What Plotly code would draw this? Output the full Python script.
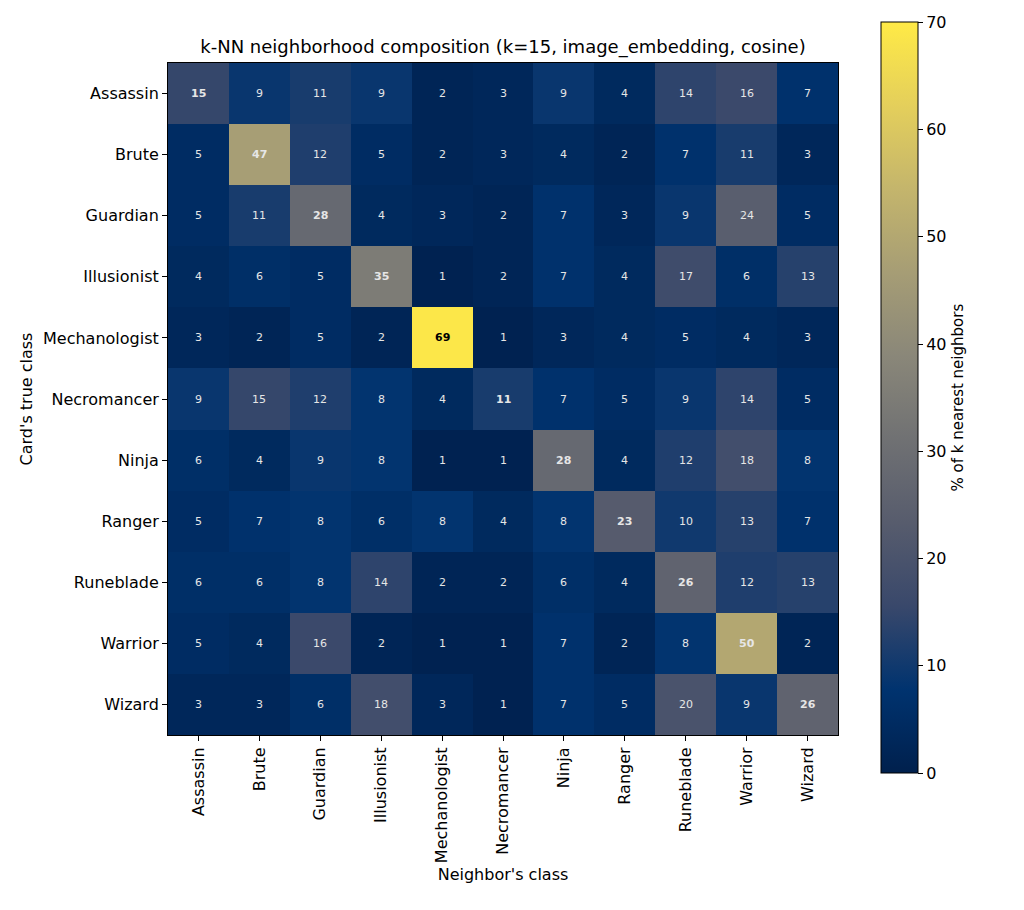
import plotly.graph_objects as go

classes = ["Assassin", "Brute", "Guardian", "Illusionist", "Mechanologist",
           "Necromancer", "Ninja", "Ranger", "Runeblade", "Warrior", "Wizard"]

# rows = card's true class, columns = neighbor's class (% of k nearest neighbors)
pct = [
    [15, 9, 11, 9, 2, 3, 9, 4, 14, 16, 7],
    [5, 47, 12, 5, 2, 3, 4, 2, 7, 11, 3],
    [5, 11, 28, 4, 3, 2, 7, 3, 9, 24, 5],
    [4, 6, 5, 35, 1, 2, 7, 4, 17, 6, 13],
    [3, 2, 5, 2, 69, 1, 3, 4, 5, 4, 3],
    [9, 15, 12, 8, 4, 11, 7, 5, 9, 14, 5],
    [6, 4, 9, 8, 1, 1, 28, 4, 12, 18, 8],
    [5, 7, 8, 6, 8, 4, 8, 23, 10, 13, 7],
    [6, 6, 8, 14, 2, 2, 6, 4, 26, 12, 13],
    [5, 4, 16, 2, 1, 1, 7, 2, 8, 50, 2],
    [3, 3, 6, 18, 3, 1, 7, 5, 20, 9, 26],
]

# cividis, 10 samples
cividis_hex = ["#00204d", "#00336f", "#39486b", "#575c6d", "#707173",
               "#8a8779", "#a69d75", "#c4b56c", "#e4cf5b", "#ffea46"]
cividis = [[k / 9, c] for k, c in enumerate(cividis_hex)]

fig = go.Figure()
fig.add_trace(go.Heatmap(
    z=pct, x=classes, y=classes,
    zmin=0, zmax=70,
    colorscale=cividis,
    colorbar=dict(
        x=1.064, xanchor="left", xref="paper", xpad=0,
        y=0.502, yanchor="middle", yref="paper", ypad=0,
        len=1.1176, lenmode="fraction",
        thickness=37,
        outlinewidth=1, outlinecolor="black",
        tickmode="array", tickvals=[0, 10, 20, 30, 40, 50, 60, 70],
        ticks="outside", ticklen=5, tickcolor="black",
        tickfont=dict(size=16, color="black"),
        title=dict(text="% of k nearest neighbors", side="right",
                   font=dict(size=15, color="black")),
    ),
))

# cell labels: diagonal in bold, dark text on the brightest cell
for i, row in enumerate(pct):
    for j, v in enumerate(row):
        label = f"<b>{v}</b>" if i == j else str(v)
        fig.add_annotation(
            x=classes[j], y=classes[i], text=label, showarrow=False,
            font=dict(size=11, color="black" if v > 60 else "#e6e6e6",
                      family="DejaVu Sans"),
        )

fig.update_layout(
    width=1024, height=910,
    margin=dict(l=160, r=194, t=55, b=183),
    paper_bgcolor="white", plot_bgcolor="white",
    font=dict(family="DejaVu Sans", color="black", size=16),
    title=dict(text="k-NN neighborhood composition (k=15, image_embedding, cosine)",
               x=0.5, xref="paper", xanchor="center",
               y=1 - 39 / 910, yanchor="middle",
               font=dict(size=18, color="black")),
    xaxis=dict(
        title=dict(text="Neighbor's class", font=dict(size=16), standoff=6),
        tickangle=-90, ticks="outside", ticklen=5, tickcolor="black",
        showline=True, linecolor="black", linewidth=1, mirror=True,
        showgrid=False, zeroline=False, tickfont=dict(size=16),
    ),
    yaxis=dict(
        title=dict(text="Card's true class", font=dict(size=16), standoff=6),
        autorange="reversed", ticks="outside", ticklen=5, tickcolor="black",
        showline=True, linecolor="black", linewidth=1, mirror=True,
        showgrid=False, zeroline=False, tickfont=dict(size=16),
    ),
)

fig.write_html("out.html")
